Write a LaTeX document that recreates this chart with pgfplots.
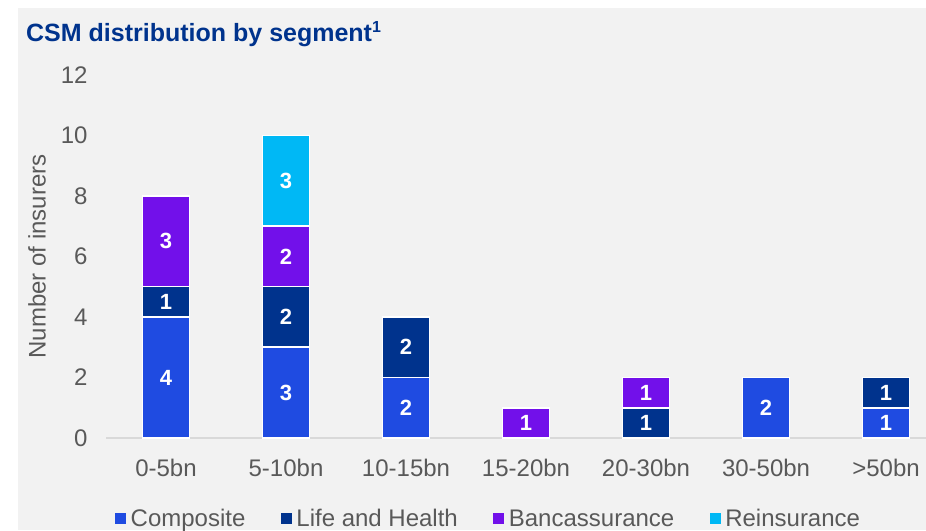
\documentclass[border=0pt]{standalone}
\usepackage{pgfplots}
\pgfplotsset{compat=1.18}
\usepackage{fontspec}
\setmainfont{Liberation Sans}

\definecolor{bgGrey}{HTML}{F2F2F2}
\definecolor{composite}{HTML}{1F4BE1}
\definecolor{lifehealth}{HTML}{00338D}
\definecolor{banca}{HTML}{7210EA}
\definecolor{reins}{HTML}{00B8F5}
\definecolor{titleBlue}{HTML}{00338D}
\definecolor{tickGrey}{HTML}{595959}
\definecolor{axisGrey}{HTML}{D9D9D9}

\begin{document}
\begin{tikzpicture}
\useasboundingbox (0pt,0pt) rectangle (926pt,530pt);
\fill[white] (0pt,0pt) rectangle (926pt,530pt);
\fill[bgGrey] (18pt,0pt) rectangle (926pt,522pt);
\node[anchor=base west, inner sep=0pt, text=titleBlue,
      font=\fontsize{25}{30}\selectfont\bfseries]
      at (26pt,488pt) {CSM distribution by segment\textsuperscript{\fontsize{16}{18}\selectfont 1}};
\begin{scope}
\clip (0pt,0pt) rectangle (926pt,530pt);
\begin{axis}[
    at={(106pt,92pt)}, anchor=south west,
    scale only axis,
    width=820pt, height=363pt,
    ybar stacked,
    bar width=47pt,
    xmin=-0.5, xmax=6.333,
    ymin=0, ymax=12,
    xtick={0,...,6},
    xticklabels={0-5bn,5-10bn,10-15bn,15-20bn,20-30bn,30-50bn,>50bn},
    ytick={0,2,...,12},
    axis lines*=left,
    y axis line style={draw=none},
    x axis line style={draw=axisGrey, line width=1.5pt, -},
    major tick length=0pt,
    /pgf/number format/assume math mode=true,
    tick label style={text=tickGrey, font=\fontsize{24}{28}\selectfont},
    yticklabel style={xshift=-15pt},
    xticklabel style={yshift=-18pt},
    ylabel={Number of insurers},
    every axis y label/.style={at={(-0.0841,0.5)}, rotate=90, anchor=center,
        text=tickGrey, font=\fontsize{24}{28}\selectfont},
    every axis plot/.append style={draw=white, line width=1.5pt},
    nodes near coords={\pgfmathfloatifflags{\pgfplotspointmeta}{0}{}{\pgfmathprintnumber{\pgfplotspointmeta}}},
    every node near coord/.append style={text=white, anchor=center,
        font=\fontsize{22}{26}\selectfont\bfseries},
    legend columns=4,
    legend style={at={(0.011,-0.2231)}, anchor=west, draw=none, fill=none,
        inner sep=0pt, text=tickGrey, font=\fontsize{24}{28}\selectfont,
        nodes={inner xsep=4.5pt, inner ysep=0pt},
        /tikz/every even column/.append style={column sep=31pt}},
    legend image code/.code={\fill[#1, draw=none] (0pt,-5.5pt) rectangle (11pt,5.5pt);},
]
\addplot[fill=composite] coordinates {(0,4) (1,3) (2,2) (3,0) (4,0) (5,2) (6,1)};
\addlegendentry{Composite}
\addplot[fill=lifehealth] coordinates {(0,1) (1,2) (2,2) (3,0) (4,1) (5,0) (6,1)};
\addlegendentry{Life and Health}
\addplot[fill=banca] coordinates {(0,3) (1,2) (2,0) (3,1) (4,1) (5,0) (6,0)};
\addlegendentry{Bancassurance}
\addplot[fill=reins] coordinates {(0,0) (1,3) (2,0) (3,0) (4,0) (5,0) (6,0)};
\addlegendentry{Reinsurance}
\end{axis}
\end{scope}
\end{tikzpicture}
\end{document}
